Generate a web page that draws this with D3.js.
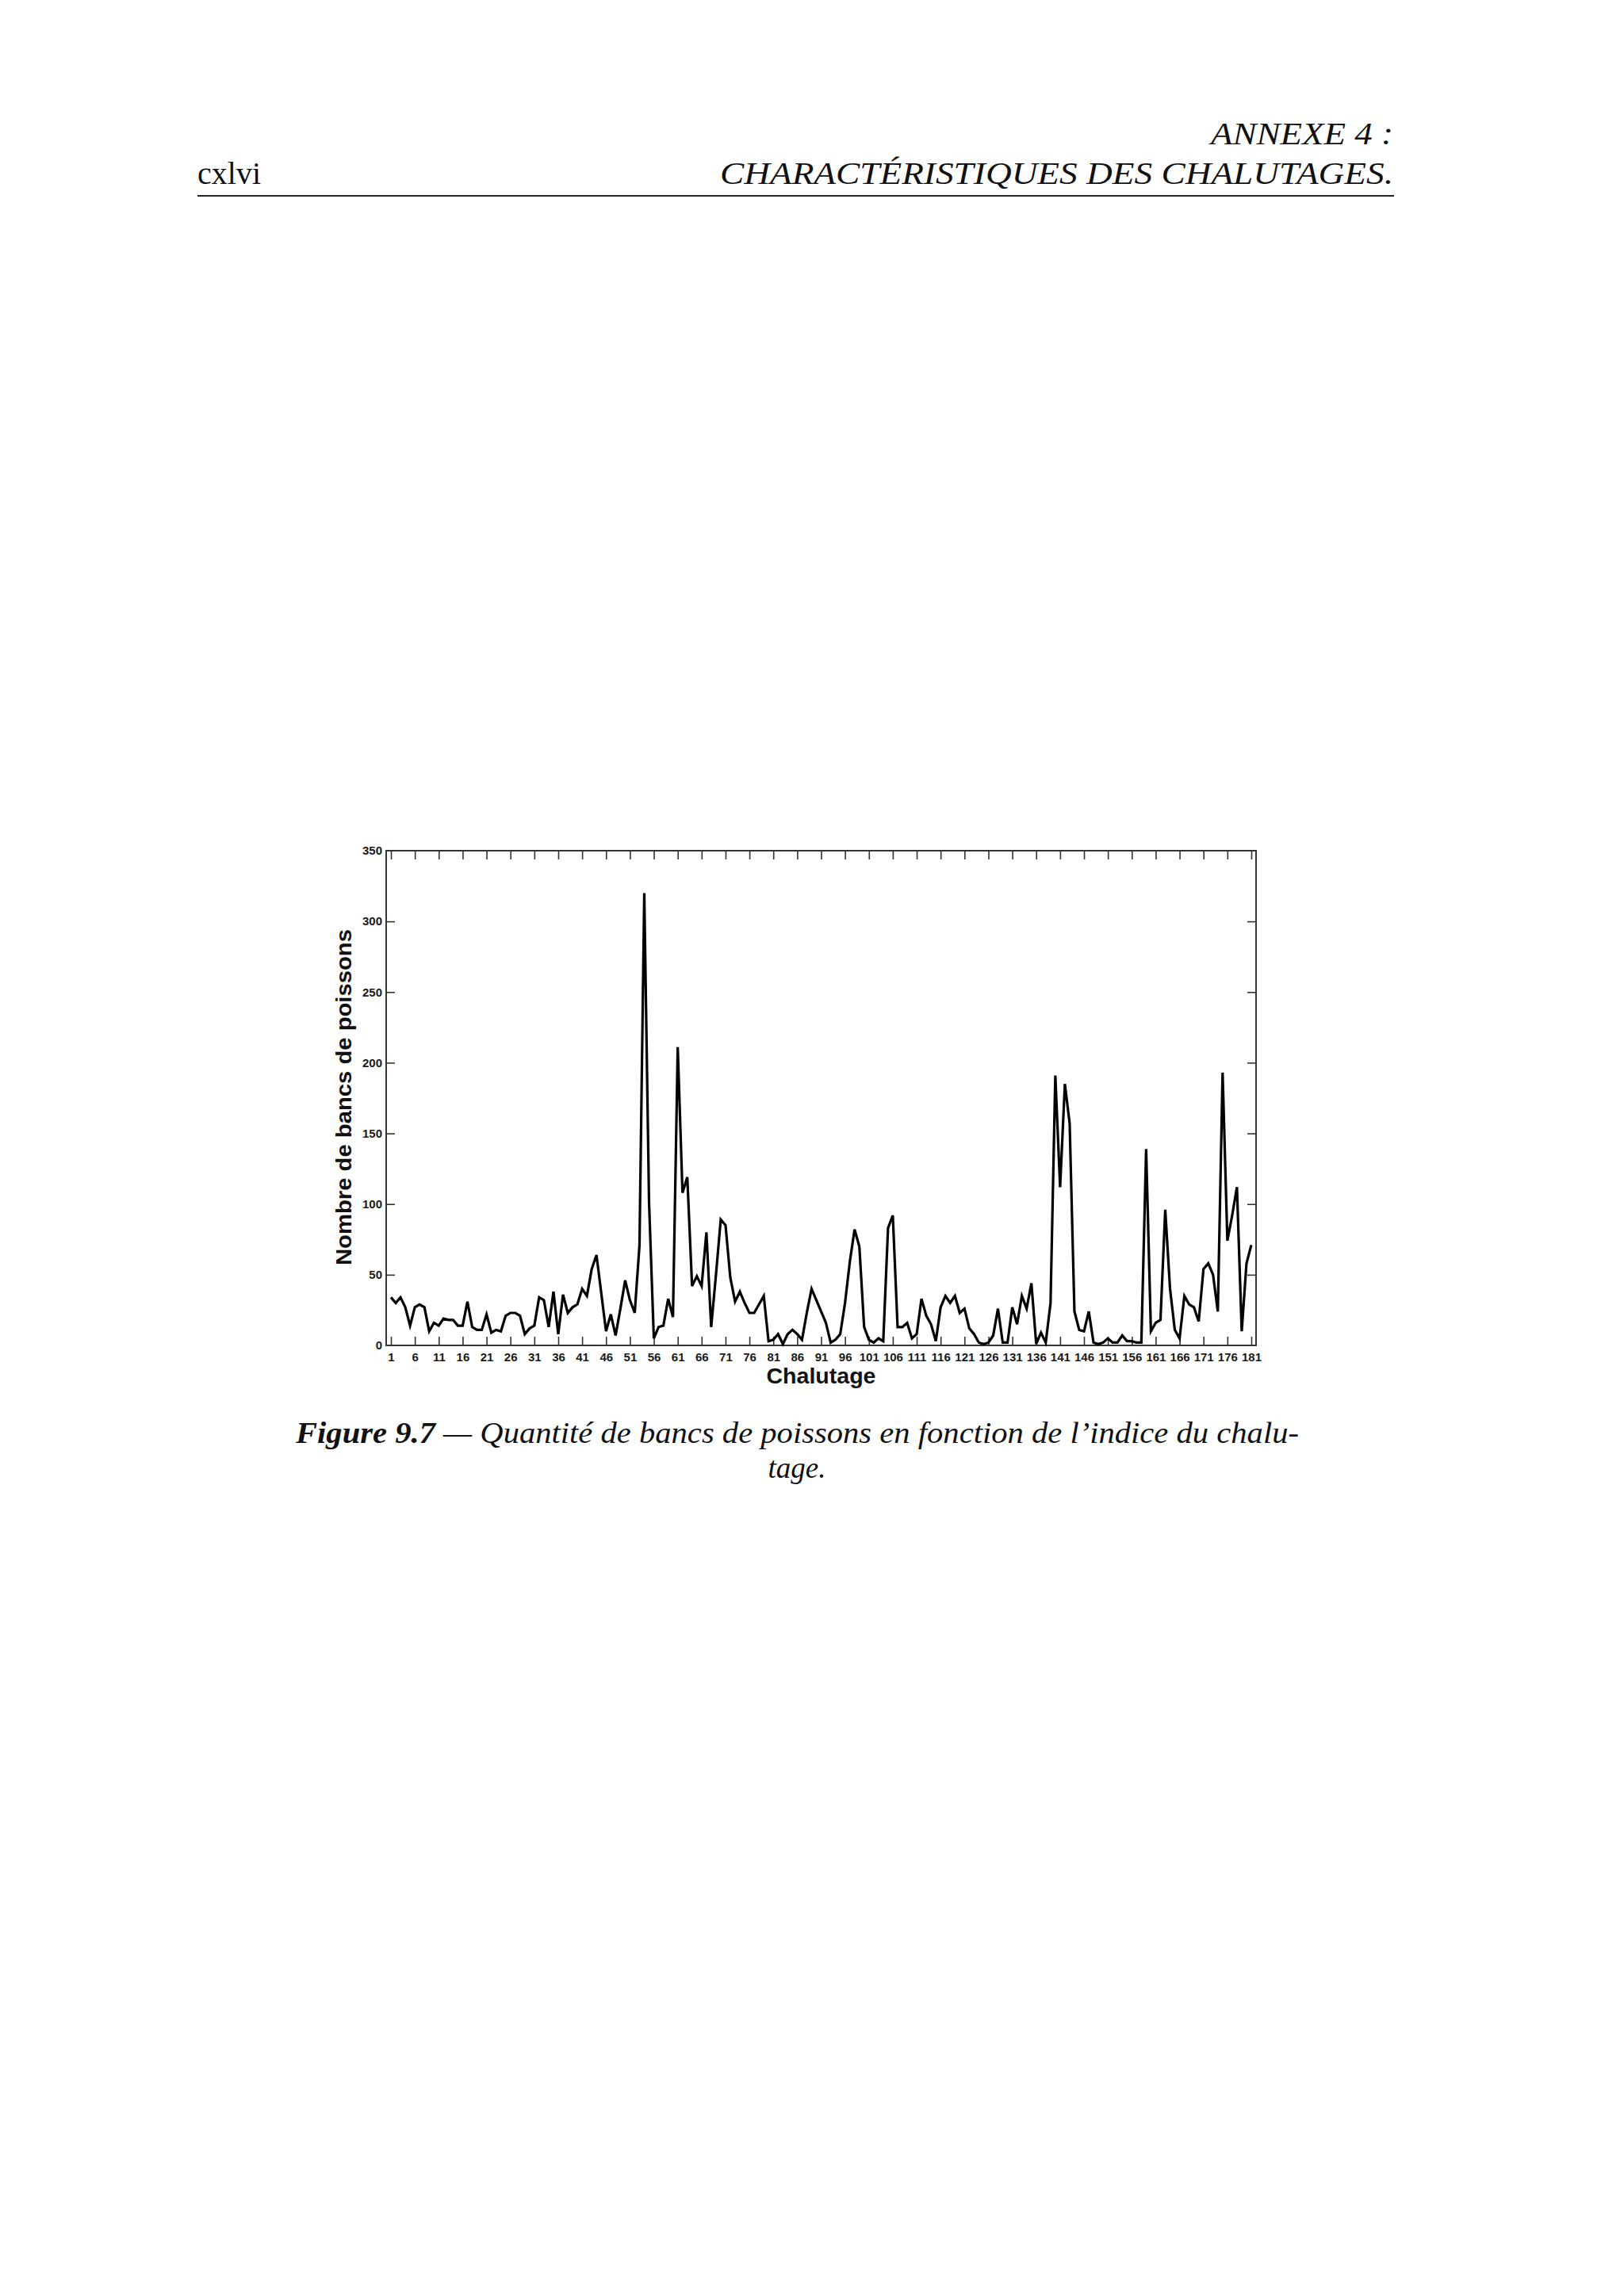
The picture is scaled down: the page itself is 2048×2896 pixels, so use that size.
<!DOCTYPE html>
<html>
<head>
<meta charset="utf-8">
<script src="https://cdn.jsdelivr.net/npm/d3@7"></script>
<style>
  html, body { margin: 0; padding: 0; background: #ffffff; }
  svg { display: block; }
</style>
</head>
<body>
<script>
// ---- Data ----
const chalutageIndex = d3.range(1, 182); // 1..181
const nombreBancs = [
  34, 30, 34, 27, 14, 27, 29, 27, 10, 16,
  14, 19, 18, 18, 14, 14, 31, 13, 11, 11,
  22, 9, 11, 10, 21, 23, 23, 21, 8, 12,
  14, 34, 32, 13, 38, 8, 36, 23, 27, 29,
  40, 35, 54, 64, 37, 10, 22, 7, 26, 46,
  32, 23, 71, 320, 101, 5, 13, 14, 33, 20,
  211, 108, 119, 42, 49, 42, 80, 13, 50, 89,
  85, 48, 31, 38, 30, 23, 23, 29, 35, 3,
  4, 8, 1, 8, 11, 8, 4, 23, 40, 32,
  24, 16, 2, 4, 8, 30, 59, 82, 70, 13,
  4, 2, 5, 3, 83, 92, 13, 13, 16, 5,
  8, 33, 21, 15, 3, 27, 35, 30, 35, 23,
  26, 12, 8, 2, 1, 2, 7, 26, 2, 2,
  27, 15, 35, 26, 44, 1, 9, 2, 30, 191,
  112, 185, 157, 24, 11, 10, 24, 2, 1, 2,
  5, 2, 2, 7, 3, 3, 2, 2, 139, 10,
  16, 18, 96, 40, 11, 5, 35, 29, 27, 17,
  54, 58, 50, 24, 193, 74, 92, 112, 10, 58,
  71
];
const xTickValues = d3.range(1, 182, 5);          // 1, 6, ..., 181
const yTickValues = [0, 50, 100, 150, 200, 250, 300, 350];
const yRightTickValues = [50, 100, 150, 200, 250, 300];
const xDomain = [0, 182];
const yDomain = [0, 350];

const headerTop = "ANNEXE 4 :";
const headerBottom = "CHARACTÉRISTIQUES DES CHALUTAGES.";
const pageNumber = "cxlvi";
const captionBold = "Figure 9.7";
const captionRest1 = " — Quantité de bancs de poissons en fonction de l’indice du chalu-";
const captionLine2 = "tage.";
const xTitle = "Chalutage";
const yTitle = "Nombre de bancs de poissons";

// ---- Layout ----
const W = 2048, H = 2896;
const plot = { left: 487, right: 1584, top: 1073, bottom: 1697 };

const svg = d3.select("body").append("svg")
  .attr("width", W).attr("height", H)
  .attr("viewBox", `0 0 ${W} ${H}`);

svg.append("rect").attr("width", W).attr("height", H).attr("fill", "#ffffff");

// ---- Header ----
const serif = "'Liberation Serif', 'DejaVu Serif', serif";
svg.append("text")
  .attr("x", 249).attr("y", 232)
  .attr("font-family", serif).attr("font-size", 39)
  .attr("textLength", 80).attr("lengthAdjust", "spacingAndGlyphs")
  .attr("fill", "#111")
  .text(pageNumber);
svg.append("text")
  .attr("x", 1757).attr("y", 182)
  .attr("text-anchor", "end")
  .attr("font-family", serif).attr("font-style", "italic").attr("font-size", 39)
  .attr("textLength", 230).attr("lengthAdjust", "spacingAndGlyphs")
  .attr("fill", "#111")
  .text(headerTop);
svg.append("text")
  .attr("x", 1757).attr("y", 232)
  .attr("text-anchor", "end")
  .attr("font-family", serif).attr("font-style", "italic").attr("font-size", 39)
  .attr("textLength", 849).attr("lengthAdjust", "spacingAndGlyphs")
  .attr("fill", "#111")
  .text(headerBottom);
svg.append("line")
  .attr("x1", 249).attr("x2", 1758).attr("y1", 247).attr("y2", 247)
  .attr("stroke", "#222").attr("stroke-width", 2);

// ---- Scales ----
const x = d3.scaleLinear().domain(xDomain).range([plot.left, plot.right]);
const y = d3.scaleLinear().domain(yDomain).range([plot.bottom, plot.top]);

const sans = "'Liberation Sans', Arial, Helvetica, sans-serif";
const tickLen = 11;

// bottom axis (inward ticks + labels)
const gB = svg.append("g")
  .attr("transform", `translate(0,${plot.bottom})`)
  .call(d3.axisBottom(x).tickValues(xTickValues).tickSizeInner(-tickLen).tickSizeOuter(0).tickPadding(9));
// top axis (inward ticks, no labels)
const gT = svg.append("g")
  .attr("transform", `translate(0,${plot.top})`)
  .call(d3.axisTop(x).tickValues(xTickValues).tickSizeInner(-tickLen).tickSizeOuter(0).tickFormat(""));
// left axis
const gL = svg.append("g")
  .attr("transform", `translate(${plot.left},0)`)
  .call(d3.axisLeft(y).tickValues(yTickValues).tickSizeInner(-tickLen).tickSizeOuter(0).tickPadding(5));
// right axis
const gR = svg.append("g")
  .attr("transform", `translate(${plot.right},0)`)
  .call(d3.axisRight(y).tickValues(yRightTickValues).tickSizeInner(-tickLen).tickSizeOuter(0).tickFormat(""));

[gB, gT, gL, gR].forEach(g => {
  g.select(".domain").remove();
  g.selectAll(".tick line").attr("stroke", "#333").attr("stroke-width", 1.6);
  g.selectAll("text")
    .attr("font-family", sans).attr("font-weight", "bold")
    .attr("font-size", 15).attr("fill", "#1a1a1a");
});
// remove the 0 / 350 ticks drawn on the frame edges for left axis (frame covers them anyway)
gL.selectAll(".tick").filter(d => d === 0 || d === 350).select("line").remove();

// frame
svg.append("rect")
  .attr("x", plot.left).attr("y", plot.top)
  .attr("width", plot.right - plot.left).attr("height", plot.bottom - plot.top)
  .attr("fill", "none").attr("stroke", "#333").attr("stroke-width", 2);

// ---- Data line ----
const line = d3.line()
  .x((d, i) => x(chalutageIndex[i]))
  .y(d => y(d));
svg.append("path")
  .datum(nombreBancs)
  .attr("d", line)
  .attr("fill", "none")
  .attr("stroke", "#000")
  .attr("stroke-width", 3.2)
  .attr("stroke-linejoin", "miter")
  .attr("stroke-miterlimit", 4);

// ---- Axis titles ----
svg.append("text")
  .attr("x", (plot.left + plot.right) / 2).attr("y", 1745)
  .attr("text-anchor", "middle")
  .attr("font-family", sans).attr("font-weight", "bold").attr("font-size", 28)
  .attr("textLength", 138).attr("lengthAdjust", "spacingAndGlyphs")
  .attr("fill", "#111")
  .text(xTitle);
svg.append("text")
  .attr("transform", `translate(443,${1384}) rotate(-90)`)
  .attr("text-anchor", "middle")
  .attr("font-family", sans).attr("font-weight", "bold").attr("font-size", 28)
  .attr("textLength", 424).attr("lengthAdjust", "spacingAndGlyphs")
  .attr("fill", "#111")
  .text(yTitle);

// ---- Caption ----
const cap = svg.append("text")
  .attr("x", 373).attr("y", 1820)
  .attr("font-family", serif).attr("font-style", "italic").attr("font-size", 37)
  .attr("textLength", 1265).attr("lengthAdjust", "spacingAndGlyphs")
  .attr("fill", "#111");
cap.append("tspan").attr("font-weight", "bold").text(captionBold);
cap.append("tspan").text(captionRest1);
svg.append("text")
  .attr("x", 1005).attr("y", 1864)
  .attr("text-anchor", "middle")
  .attr("font-family", serif).attr("font-style", "italic").attr("font-size", 37)
  .attr("fill", "#111")
  .text(captionLine2);
</script>
</body>
</html>
